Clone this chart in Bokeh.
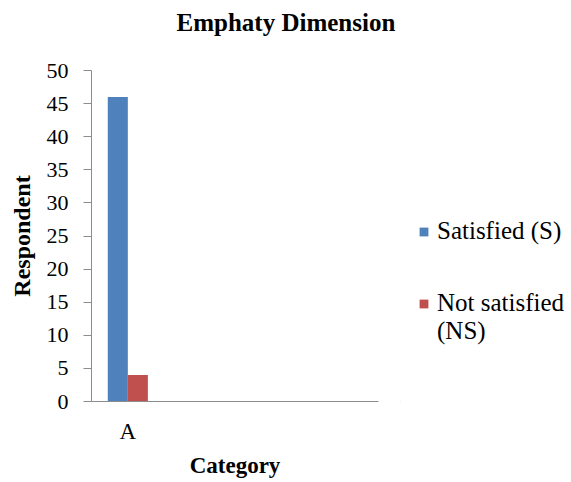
from bokeh.plotting import figure
from bokeh.models import Range1d, FixedTicker, Legend, LegendItem, ColumnDataSource, Title
from bokeh.transform import dodge
from bokeh.layouts import row
from bokeh.embed import file_html
from bokeh.resources import INLINE

# ---- data ----
categories = ["A"]
satisfied = [46]
not_satisfied = [4]
series_names = ["Satisfied (S)", "Not satisfied", "(NS)"]
series_colors = ["#4F81BD", "#C0504D"]
y_ticks = [0, 5, 10, 15, 20, 25, 30, 35, 40, 45, 50]
chart_title = "Emphaty  Dimension"

SERIF = "Liberation Serif"

xpos = [i + 0.5 for i in range(len(categories))]
src = ColumnDataSource(dict(x=xpos, s=satisfied, ns=not_satisfied))

# ---- main chart ----
p = figure(width=400, height=482, title=None,
           x_range=Range1d(0, 3.95), y_range=Range1d(0, 50),
           output_backend="svg", toolbar_location=None,
           min_border_left=91, min_border_right=22,
           min_border_top=70, min_border_bottom=81)

r1 = p.vbar(x=dodge("x", -0.138, range=p.x_range), top="s", width=0.276,
            source=src, fill_color=series_colors[0], line_color=None)
r2 = p.vbar(x=dodge("x", 0.138, range=p.x_range), top="ns", width=0.276,
            source=src, fill_color=series_colors[1], line_color=None)

p.outline_line_color = None
p.xgrid.grid_line_color = None
p.ygrid.grid_line_color = None

# spacer between frame and title, then the title itself (outer)
p.add_layout(Title(text=" ", text_font_size="1px", standoff=23), "above")
p.add_layout(Title(text=chart_title, text_font=SERIF, text_font_size="25px",
                   text_font_style="bold", text_color="#000000",
                   align="left", offset=85, vertical_align="top", standoff=14),
             "above")

ya = p.yaxis[0]
ya.ticker = FixedTicker(ticks=y_ticks)
ya.axis_line_color = "#8c8c8c"
ya.major_tick_line_color = "#8c8c8c"
ya.major_tick_out = 8
ya.major_tick_in = 0
ya.minor_tick_line_color = None
ya.major_label_text_font = SERIF
ya.major_label_text_font_size = "22px"
ya.major_label_text_color = "#000000"
ya.major_label_standoff = 15
ya.axis_label = "Respondent"
ya.axis_label_text_font = SERIF
ya.axis_label_text_font_size = "24px"
ya.axis_label_text_font_style = "bold"
ya.axis_label_text_color = "#000000"
ya.axis_label_standoff = 9

xa = p.xaxis[0]
xa.ticker = FixedTicker(ticks=xpos)
xa.major_label_overrides = {xv: c for xv, c in zip(xpos, categories)}
xa.axis_line_color = "#8c8c8c"
xa.major_tick_line_color = None
xa.minor_tick_line_color = None
xa.major_tick_out = 0
xa.major_label_text_font = SERIF
xa.major_label_text_font_size = "23px"
xa.major_label_text_color = "#000000"
xa.major_label_standoff = 17
xa.axis_label = "Category"
xa.axis_label_text_font = SERIF
xa.axis_label_text_font_size = "23px"
xa.axis_label_text_font_style = "bold"
xa.axis_label_text_color = "#000000"
xa.axis_label_standoff = 6

# ---- legend panel (its frame is aligned with the chart's frame) ----
q = figure(width=171, height=482, x_range=Range1d(10, 11), y_range=Range1d(100, 101),
           output_backend="svg", toolbar_location=None,
           x_axis_type=None, y_axis_type=None,
           min_border_left=0, min_border_right=0, min_border_top=0, min_border_bottom=0)
q.outline_line_color = None
q.xgrid.grid_line_color = None
q.ygrid.grid_line_color = None
# legend proxies: same data, kept outside this panel's visible range
k1 = q.vbar(x="x", top="s", width=0.1, source=src, fill_color=series_colors[0], line_color=None)
k2 = q.vbar(x="x", top="ns", width=0.1, source=src, fill_color=series_colors[1], line_color=None)
k3 = q.vbar(x="x", top="ns", width=0.1, source=src, fill_alpha=0, line_alpha=0)

common = dict(orientation="vertical", margin=0, padding=0, spacing=0,
              glyph_width=11, glyph_height=11, label_standoff=8,
              label_text_font="'Liberation Serif', serif", label_text_font_size="25px",
              label_text_font_style="normal",
              label_text_color="#000000",
              border_line_color=None, background_fill_alpha=0)
leg1 = Legend(items=[LegendItem(label=series_names[0], renderers=[k1])],
              location=(18, 156), **common)
leg2 = Legend(items=[LegendItem(label=series_names[1], renderers=[k2]),
                     LegendItem(label=series_names[2], renderers=[k3])],
              location=(18, 56), **common)
q.add_layout(leg1, "center")
q.add_layout(leg2, "center")

open("out.html", "w").write(file_html(row(p, q), INLINE))
